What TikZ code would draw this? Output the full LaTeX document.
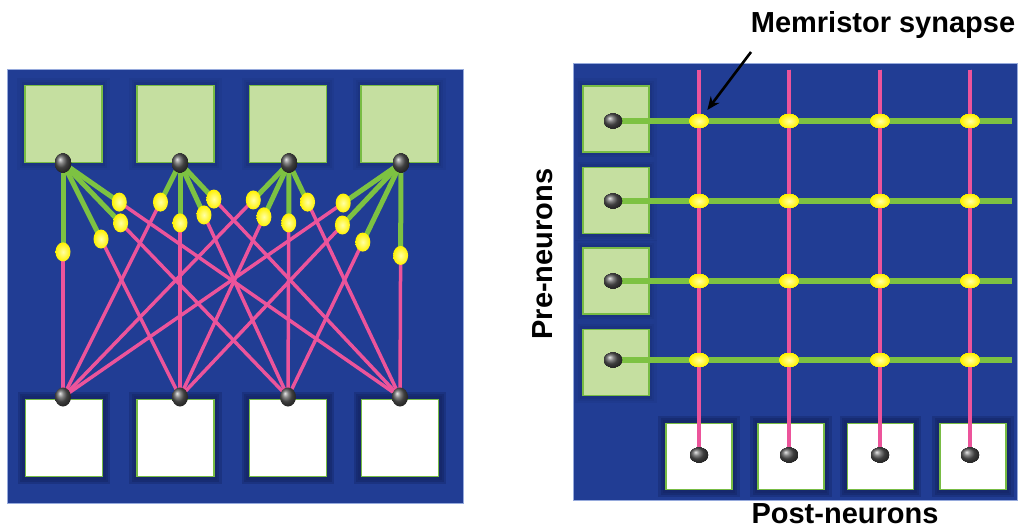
\documentclass[tikz,border=0pt]{standalone}
\usepackage{fontspec}
\setmainfont{Liberation Sans}
\usetikzlibrary{shapes.geometric,arrows.meta,calc}
\definecolor{panelblue}{RGB}{33,61,148}
\definecolor{haloblue}{RGB}{22,40,105}
\definecolor{edgeblue}{RGB}{150,170,220}
\definecolor{boxgreen}{RGB}{197,223,160}
\definecolor{rimgreen}{RGB}{120,188,68}
\definecolor{wiregreen}{RGB}{125,194,66}
\definecolor{wirepink}{RGB}{236,84,155}
\definecolor{synyellow}{RGB}{255,242,0}
\pgfdeclarelayer{base}
\pgfdeclarelayer{halo}
\pgfdeclarelayer{boxes}
\pgfdeclarelayer{wires}
\pgfsetlayers{base,halo,boxes,wires,main}
\tikzset{
  panel/.style={fill=panelblue, draw=edgeblue, line width=1pt},
  neuronbox/.style={rectangle, draw=rimgreen, line width=1.4pt, inner sep=0pt,
                    minimum width=#1, minimum height=#1},
  prebox/.style={neuronbox=#1, fill=boxgreen},
  postbox/.style={neuronbox=#1, fill=white},
  soma/.style={ellipse, inner sep=0pt, minimum width=16pt, minimum height=19pt,
               shading=ball, ball color=black!65},
  somaflat/.style={soma, minimum width=18pt, minimum height=15pt},
  synapse/.style={ellipse, inner sep=0pt, minimum width=15pt, minimum height=19pt,
                  inner color=yellow!35!white, outer color=synyellow},
  synflat/.style={synapse, minimum width=19pt, minimum height=14pt},
  axon/.style={wiregreen, line width=5pt},
  axonr/.style={wiregreen, line width=6pt},
  dendrite/.style={wirepink, line width=3.5pt},
  dendriter/.style={wirepink, line width=4pt},
  label/.style={font=\bfseries\fontsize{29}{34}\selectfont, text=black, inner sep=0pt},
}
% neuron box with a soft dark rim around it
\newcommand{\neuron}[4]{% style, name, x, y
  \begin{pgfonlayer}{boxes}
    \node[#1] (#2) at (#3,#4) {};
  \end{pgfonlayer}
  \begin{pgfonlayer}{halo}
    \fill[haloblue, opacity=0.12] ($(#2.south west)+(-7,7)$) rectangle ($(#2.north east)+(7,-7)$);
    \fill[haloblue, opacity=0.16] ($(#2.south west)+(-4.5,4.5)$) rectangle ($(#2.north east)+(4.5,-4.5)$);
    \fill[haloblue, opacity=0.22] ($(#2.south west)+(-2.5,2.5)$) rectangle ($(#2.north east)+(2.5,-2.5)$);
  \end{pgfonlayer}}
\begin{document}
\begin{tikzpicture}[x=1pt, y=-1pt]
\useasboundingbox (0,0) rectangle (1019,529);
\begin{pgfonlayer}{base}
  \fill[white] (0,0) rectangle (1019,529);
  \path[panel] (7,70) rectangle (463,503);
  \path[panel] (573,64) rectangle (1017,500);
\end{pgfonlayer}

% ---------------- fully connected network ----------------
\foreach \i/\x in {1/63.5,2/175.5,3/288,4/399.5}
  \neuron{prebox=77pt}{A\i}{\x}{124}
\foreach \i/\x in {1/64,2/175.5,3/288,4/400}
  \neuron{postbox=77pt}{B\i}{\x}{438}
\foreach \i/\x in {1/63,2/180,3/289,4/401}
  \node[soma] (T\i) at (\x,163) {};
\foreach \j/\x in {1/63,2/180,3/288,4/400}
  \node[soma] (D\j) at (\x,397) {};

% synapse position along each top-to-bottom wire
\foreach \i/\j/\f in {1/1/0.38, 1/2/0.325, 1/3/0.256, 1/4/0.167,
                      2/1/0.167,2/2/0.256, 2/3/0.222, 2/4/0.154,
                      3/1/0.158,3/2/0.23,  3/3/0.256, 3/4/0.167,
                      4/1/0.171,4/2/0.265, 4/3/0.338, 4/4/0.395}{
  \node[synapse] (s\i\j) at ($(T\i.center)!\f!(D\j.center)$) {};
  \begin{pgfonlayer}{wires}
    \draw[dendrite] (s\i\j.center) -- (D\j.center);
    \draw[axon] (T\i.center) -- (s\i\j.center);
  \end{pgfonlayer}
}

% ---------------- crossbar array ----------------
\foreach \i/\y in {1/119,2/200.5,3/281,4/362.5}
  \neuron{prebox=66pt}{P\i}{616}{\y}
\foreach \j/\x in {1/699,2/791,3/880.5,4/973}
  \neuron{postbox=66pt}{Q\j}{\x}{456.5}
\foreach \i/\y in {1/121,2/201,3/281,4/360}{
  \node[somaflat] (R\i) at (613,\y) {};
  \coordinate (re\i) at (1012,\y);
}
\foreach \j/\x in {1/699,2/789,3/880,4/970}{
  \node[somaflat] (C\j) at (\x,455) {};
  \coordinate (ce\j) at (\x,70);
}
\foreach \i in {1,...,4}{
  \begin{pgfonlayer}{wires}
    \draw[dendriter] (ce\i) -- (C\i.center);
    \draw[axonr] (R\i.center) -- (re\i);
  \end{pgfonlayer}
}
\foreach \i/\y in {1/121,2/201,3/281,4/360}
  \foreach \j/\x in {1/699,2/789,3/880,4/970}
    \node[synflat] (x\i\j) at (\x,\y) {};

% ---------------- labels ----------------
\node[label] (mlab) at (883,25) {Memristor synapse};
\coordinate (mtail) at (751,52);
\draw[line width=2.6pt, -{Stealth[length=13pt,width=11pt]}, shorten >=6pt] (mtail) -- (x11);
\node[label, rotate=90] (prelab) at (543,254) {Pre-neurons};
\node[label] (postlab) at (845,514) {Post-neurons};
\end{tikzpicture}
\end{document}
